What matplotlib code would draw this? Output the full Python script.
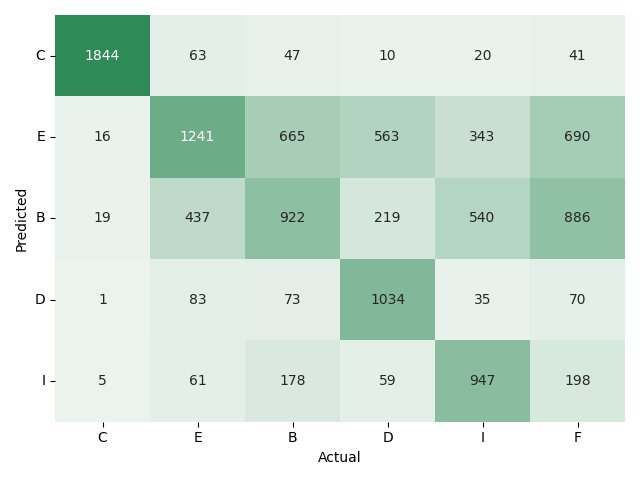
import numpy as np
import matplotlib
matplotlib.use("Agg")
import matplotlib.pyplot as plt
import seaborn as sns

# confusion matrix counts (rows = predicted, cols = actual)
predicted_labels = ["C", "E", "B", "D", "I"]
actual_labels = ["C", "E", "B", "D", "I", "F"]
row_c = [1844, 63, 47, 10, 20, 41]
row_e = [16, 1241, 665, 563, 343, 690]
row_b = [19, 437, 922, 219, 540, 886]
row_d = [1, 83, 73, 1034, 35, 70]
row_i = [5, 61, 178, 59, 947, 198]

cm = np.array([row_c, row_e, row_b, row_d, row_i])

cmap = sns.light_palette("seagreen", as_cmap=True)

fig, ax = plt.subplots(figsize=(6.4, 4.8), dpi=100)
sns.heatmap(cm, annot=True, fmt="d", cmap=cmap, cbar=False,
            xticklabels=actual_labels, yticklabels=predicted_labels, ax=ax)
ax.set_xlabel("Actual")
ax.set_ylabel("Predicted")
plt.yticks(rotation=0)

plt.tight_layout()
plt.savefig("out.png")
